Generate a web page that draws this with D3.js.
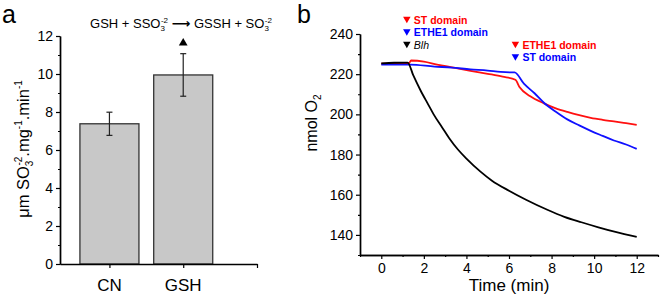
<!DOCTYPE html>
<html>
<head>
<meta charset="utf-8">
<script src="https://cdn.jsdelivr.net/npm/d3@7"></script>
<style>
  body { margin: 0; background: #fff; }
  svg { display: block; font-family: "Liberation Sans", Arimo, Arial, sans-serif; }
</style>
</head>
<body>
<div id="chart"></div>
<script>
// panel a: sulfite production
const categories = ["CN", "GSH"];
const rates = [7.38, 9.95];
const rateErr = [0.61, 1.12];

// panel b: O2 consumption traces [time (min), nmol O2]
const blhTrace = [[0,225.4],[0.6,225.7],[1.24,225.8],[1.5,219.5],[1.84,212],[2.2,205],[2.46,200],[2.86,193.5],
  [3.2,188],[3.6,182.5],[4,178],[4.66,171.5],[5.2,167],[6,162],[6.8,157.5],[7.8,152.5],[8.6,149],
  [9.4,146.3],[10.2,143.8],[11,141.5],[12,139]];
const redTrace = [[0,225.2],[0.6,225.4],[1.3,225.5],[1.4,226.8],[2,226.3],[2.62,224.8],[3.4,223.3],[4.19,221.7],
  [5,220.2],[5.7,218.8],[6.3,217.2],[6.5,213.5],[7,209],[7.64,205.5],[8.2,203],[8.74,201.2],[9.3,199.6],
  [9.84,198.3],[10.4,197.3],[10.93,196.5],[11.5,195.6],[12,194.8]];
const blueTrace = [[0,224.8],[1.36,224.8],[2.5,223.8],[3.3,223.3],[4.19,222.4],[5,221.8],[5.6,221.1],[6.1,220.9],
  [6.26,220.9],[6.7,215.3],[7.2,210.5],[7.64,205.8],[8.2,201.3],[8.74,197.5],[9.3,194.5],[9.84,191.8],
  [10.4,189.3],[10.93,187],[11.5,185],[12,182.8]];

// additions marked with ▼ : [time, row, label, colour]
const marks = [
  [1.2, 0, "ST domain", "#ff0000"],
  [1.2, 1, "ETHE1 domain", "#0000ff"],
  [1.2, 2, "Blh", "#000"],
  [6.3, 2, "ETHE1 domain", "#ff0000"],
  [6.3, 3, "ST domain", "#0000ff"]
];

const W = 660, H = 298;
const svg = d3.select("#chart").append("svg").attr("width", W).attr("height", H);

function styleAxis(g) {
  g.selectAll("path.domain").attr("stroke", "#000").attr("stroke-width", 1.4);
  g.selectAll(".tick line").attr("stroke", "#000").attr("stroke-width", 1.2);
  g.selectAll("text").attr("fill", "#000").style("font-size", "14px");
}

// ---------- panel a ----------
const xA = d3.scaleLinear([0.33, 3], [60, 257]);
const yA = d3.scaleLinear([0, 12], [264, 36]);

svg.append("g").attr("transform", "translate(60,0)")
  .call(d3.axisLeft(yA).tickValues([1,3,5,7,9,11]).tickSize(2).tickFormat("").tickSizeOuter(0))
  .call(styleAxis);
svg.append("g").attr("transform", "translate(60,0)")
  .call(d3.axisLeft(yA).tickValues([0,2,4,6,8,10,12]).tickSize(4).tickPadding(3).tickSizeOuter(0))
  .call(styleAxis);

const bw = xA(1.4) - xA(0.6);
svg.append("g").selectAll("rect").data(rates).join("rect")
  .attr("x", (d, i) => xA(i + 1) - bw / 2)
  .attr("y", d => yA(d))
  .attr("width", bw)
  .attr("height", d => yA(0) - yA(d))
  .attr("fill", "#c8c8c8")
  .attr("stroke", "#333")
  .attr("stroke-width", 1.3);

const err = svg.append("g").attr("stroke", "#222").attr("stroke-width", 1.2);
rates.forEach((v, i) => {
  const cx = xA(i + 1);
  err.append("line").attr("x1", cx).attr("x2", cx).attr("y1", yA(v + rateErr[i])).attr("y2", yA(v - rateErr[i]));
  [v + rateErr[i], v - rateErr[i]].forEach(e =>
    err.append("line").attr("x1", cx - 3).attr("x2", cx + 3).attr("y1", yA(e)).attr("y2", yA(e)));
});

svg.append("g").attr("transform", "translate(0,264)")
  .call(d3.axisBottom(xA).tickValues([1, 2, 3]).tickSize(4).tickFormat("").tickSizeOuter(0))
  .call(styleAxis);
svg.append("g").selectAll("text.cat").data(categories).join("text")
  .attr("x", (d, i) => xA(i + 1)).attr("y", 291)
  .attr("text-anchor", "middle").style("font-size", "17px").text(d => d);

// y label a
const ylabA = svg.append("text")
  .attr("transform", "translate(29,149) rotate(-90)")
  .attr("text-anchor", "middle").style("font-size", "16.5px");
ylabA.append("tspan").text("\u03bcm SO");
ylabA.append("tspan").attr("dy", 4).style("font-size", "10px").text("3");
ylabA.append("tspan").attr("dy", -11).attr("dx", -5).style("font-size", "10px").text("-2");
ylabA.append("tspan").attr("dy", 7).text(".mg");
ylabA.append("tspan").attr("dy", -7).style("font-size", "10px").text("-1");
ylabA.append("tspan").attr("dy", 7).text(".min");
ylabA.append("tspan").attr("dy", -7).style("font-size", "10px").text("-1");

// reaction + marker
const eq = svg.append("text").attr("x", 181).attr("y", 28)
  .attr("text-anchor", "middle").style("font-size", "13px");
eq.append("tspan").text("GSH + SSO");
eq.append("tspan").attr("dy", 3).style("font-size", "8px").text("3");
eq.append("tspan").attr("dy", -8).attr("dx", -4).style("font-size", "8px").text("-2");
eq.append("tspan").attr("dy", 5).text(" ");
eq.append("tspan").style("font-weight", "bold").style("font-family", "DejaVu Sans").text("\u27f6");
eq.append("tspan").text(" GSSH + SO");
eq.append("tspan").attr("dy", 3).style("font-size", "8px").text("3");
eq.append("tspan").attr("dy", -8).attr("dx", -4).style("font-size", "8px").text("-2");

svg.append("path").attr("d", d3.symbol(d3.symbolTriangle2, 55)())
  .attr("transform", `translate(${xA(2)},43)`).attr("fill", "#000");

svg.append("text").attr("x", 2).attr("y", 23).style("font-size", "25px").text("a");

// ---------- panel b ----------
const xB = d3.scaleLinear([-1, 13], [360, 658]);
const yB = d3.scaleLinear([130, 240], [255, 34]);

svg.append("g").attr("transform", "translate(360,0)")
  .call(d3.axisLeft(yB).tickValues([130,150,170,190,210,230]).tickSize(2).tickFormat("").tickSizeOuter(0))
  .call(styleAxis);
svg.append("g").attr("transform", "translate(360,0)")
  .call(d3.axisLeft(yB).tickValues([140,160,180,200,220,240]).tickSize(4).tickPadding(3).tickSizeOuter(0))
  .call(styleAxis);
svg.append("g").attr("transform", "translate(0,255)")
  .call(d3.axisBottom(xB).tickValues([-1,1,3,5,7,9,11,13]).tickSize(2).tickFormat("").tickSizeOuter(0))
  .call(styleAxis);
svg.append("g").attr("transform", "translate(0,255)")
  .call(d3.axisBottom(xB).tickValues([0,2,4,6,8,10,12]).tickSize(4).tickPadding(4).tickSizeOuter(0))
  .call(styleAxis);

const line = d3.line().x(d => xB(d[0])).y(d => yB(d[1])).curve(d3.curveMonotoneX);
[[redTrace, "#ff1010"], [blueTrace, "#1010ff"], [blhTrace, "#000"]].forEach(([tr, c]) => {
  svg.append("path").datum(tr).attr("d", line)
    .attr("fill", "none").attr("stroke", c).attr("stroke-width", 1.8);
});

const rowY = [20, 32.5, 45, 57.5];
const mg = svg.append("g");
marks.forEach(([t, r, lab, c]) => {
  mg.append("path").attr("d", d3.symbol(d3.symbolTriangle2, 40)())
    .attr("transform", `translate(${xB(t)},${rowY[r] - 1}) rotate(180)`).attr("fill", c);
  mg.append("text").attr("x", xB(t) + 7).attr("y", rowY[r] + 3.5)
    .attr("fill", c).style("font-size", "10.5px")
    .style("font-weight", lab === "Blh" ? "normal" : "bold")
    .style("font-style", lab === "Blh" ? "italic" : "normal")
    .text(lab);
});

svg.append("text").attr("x", xB(6)).attr("y", 291)
  .attr("text-anchor", "middle").style("font-size", "17px").text("Time (min)");

const ylabB = svg.append("text")
  .attr("transform", "translate(317,123) rotate(-90)")
  .attr("text-anchor", "middle").style("font-size", "16px");
ylabB.append("tspan").text("nmol O");
ylabB.append("tspan").attr("dy", 4).style("font-size", "10px").text("2");

svg.append("text").attr("x", 297).attr("y", 23).style("font-size", "25px").text("b");
</script>
</body>
</html>
